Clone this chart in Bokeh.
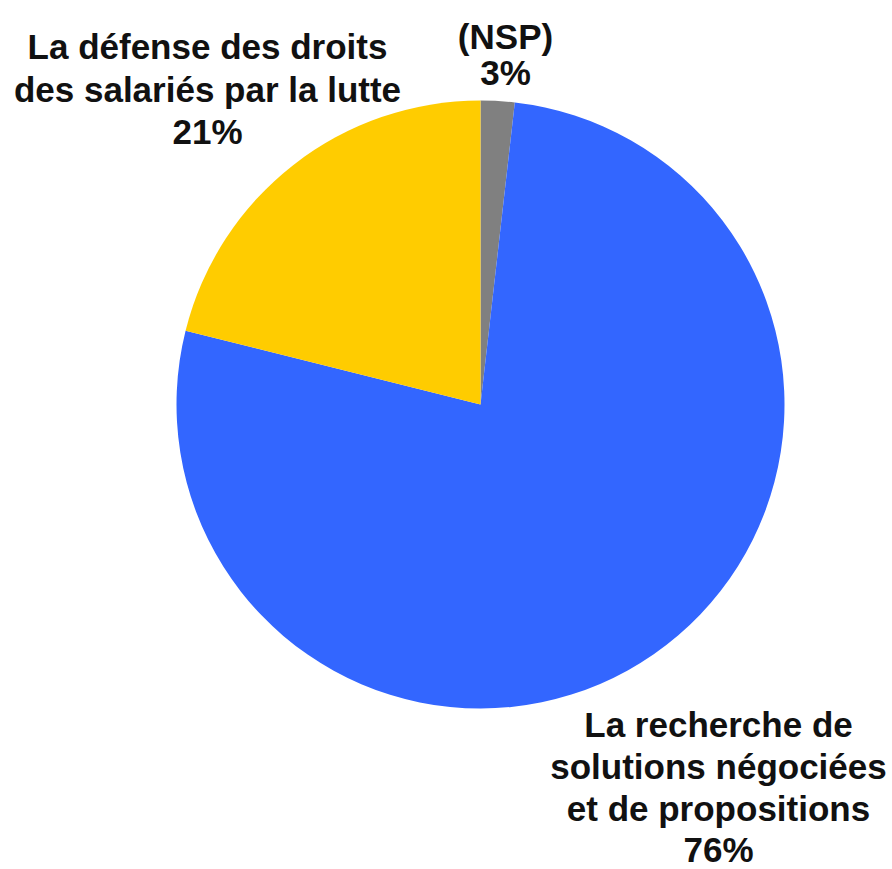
import math
from bokeh.plotting import figure
from bokeh.models import Range1d, ColumnDataSource
from bokeh.core.properties import value
from bokeh.embed import file_html
from bokeh.resources import INLINE

# Data (shares as drawn, percentage labels as printed)
categories = ["(NSP)", "La recherche de\nsolutions négociées\net de propositions",
              "La défense des droits\ndes salariés par la lutte"]
shares = [1.8, 77.1, 21.1]
pct_labels = ["3%", "76%", "21%"]
colors = ["#808080", "#3366FF", "#FFCC00"]

W, H = 892, 869
p = figure(width=W, height=H, output_backend="svg", toolbar_location=None,
           x_range=Range1d(0, W), y_range=Range1d(0, H), min_border=0)
p.axis.visible = False
p.grid.visible = False
p.outline_line_color = None
p.background_fill_color = "white"

def Y(img_y):
    return H - img_y

cx, cy, r = 480, Y(404), 304
total = sum(shares)
starts, ends = [], []
a = math.pi / 2
for s in shares:
    starts.append(a)
    a -= s / total * 2 * math.pi
    ends.append(a)

src = ColumnDataSource(dict(start=starts, end=ends, color=colors))
p.wedge(x=cx, y=cy, radius=r, start_angle="start", end_angle="end",
        direction="clock", fill_color="color", line_color=None, source=src)

# Label anchors (center x, first line middle y, line height) in image px
anchors = [(505, 36, 36), (718, 724, 41.8), (207, 46, 42.5)]
xs, ys, ts = [], [], []
for cat, pct, (ax, ay, lh) in zip(categories, pct_labels, anchors):
    lines = cat.split("\n") + [pct]
    for i, ln in enumerate(lines):
        xs.append(ax)
        ys.append(Y(ay + i * lh))
        ts.append(ln)

p.text(x=xs, y=ys, text=ts, text_font=value("Liberation Sans"),
       text_font_style="bold", text_font_size="35px", text_color="#111111",
       text_align="center", text_baseline="middle")

open("out.html", "w").write(file_html(p, INLINE))
